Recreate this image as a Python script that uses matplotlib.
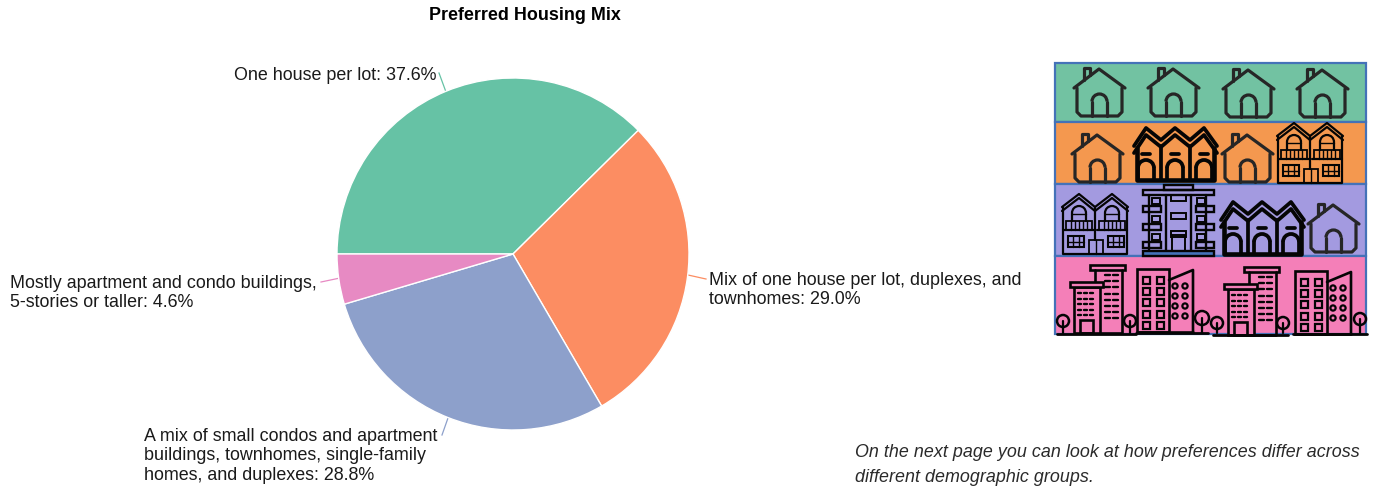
import matplotlib
matplotlib.use("Agg")
import matplotlib.pyplot as plt
from matplotlib.patches import Rectangle, Circle, Arc

# Survey results
categories = [
    "One house per lot",
    "Mix of one house per lot, duplexes, and\ntownhomes",
    "A mix of small condos and apartment\nbuildings, townhomes, single-family\nhomes, and duplexes",
    "Mostly apartment and condo buildings,\n5-stories or taller",
]
shares = [37.6, 29.0, 28.8, 4.6]
slice_colors = ["#66c2a5", "#fc8d62", "#8da0cb", "#e78ac3"]
title = "Preferred Housing Mix"
note = ("On the next page you can look at how preferences differ across\n"
        "different demographic groups.")

W, H = 1374, 487
plt.rcParams["font.family"] = ["Liberation Sans", "DejaVu Sans"]
fig = plt.figure(figsize=(W / 100, H / 100), dpi=100)

# Overlay in pixel units for text and the icon panel
ov = fig.add_axes([0, 0, 1, 1])
ov.set_xlim(0, W)
ov.set_ylim(H, 0)
ov.axis("off")

# Pie
cx, cy, R = 513, 254, 176
pie_ax = fig.add_axes([(cx - R) / W, 1 - (cy + R) / H, 2 * R / W, 2 * R / H])
pie_ax.pie(shares, colors=slice_colors, startangle=180, counterclock=False,
           radius=1, wedgeprops=dict(edgecolor="white", linewidth=1))
pie_ax.set_xlim(-1, 1)
pie_ax.set_ylim(-1, 1)

# Slice labels and leader lines
TXT = "#1a1a1a"
FS = 12.9
label_spec = [
    (437, 76, "right", (439, 73), (446, 92)),
    (709, 290, "left", (688, 275), (706, 279)),
    (144, 456, "left", (448, 418), (442, 435)),
    (10, 293, "left", (340, 278), (321, 282)),
]
for name, v, c, (tx, ty, ha, p0, p1) in zip(categories, shares, slice_colors, label_spec):
    ov.text(tx, ty, f"{name}: {v:.1f}%", ha=ha, va="center", fontsize=FS,
            color=TXT, linespacing=1.17)
    ov.plot([p0[0], p1[0]], [p0[1], p1[1]], color=c, lw=0.9)

ov.text(525, 15.5, title, ha="center", va="center", fontsize=12.9,
        fontweight="bold", color="black")
ov.text(855, 465, note, ha="left", va="center", fontsize=12.9, style="italic",
        color="#2a2a2a", linespacing=1.6)

# Icon panel
INK = "#262626"
BLK = "#050505"
PINK = "#f47fb8"
bands = [(63, 122, "#72c2a2"), (122, 184, "#f4984f"),
         (184, 256, "#a39ae0"), (256, 334, PINK)]
for top, bot, col in bands:
    ov.add_patch(Rectangle((1055, top), 311, bot - top, fc=col, ec="#4472b8",
                           lw=1.6, zorder=1))


def line(xs, ys, color=BLK, lw=1.5):
    ov.plot(xs, ys, color=color, lw=lw, solid_capstyle="round",
            solid_joinstyle="round", zorder=3)


def box(x, y, w, h, lw=1.2, color=BLK, fc="none"):
    ov.add_patch(Rectangle((x, y), w, h, fc=fc, ec=color, lw=lw, zorder=3))


def arch(x0, x1, base, top, color=BLK, lw=1.5):
    # door or window with a rounded head
    r = (x1 - x0) / 2
    line([x0, x0], [base, top + r], color, lw)
    line([x1, x1], [base, top + r], color, lw)
    ov.add_patch(Arc(((x0 + x1) / 2, top + r), 2 * r, 2 * r, theta1=180, theta2=360,
                     color=color, lw=lw, zorder=3))


def house(x, y):
    # x, y is the top-left corner of a 52x49 icon
    lw = 2.3
    line([x, x + 25, x + 51], [y + 20, y + 1, y + 20], INK, lw)
    line([x + 10, x + 10, x + 16, x + 16], [y + 12, y, y, y + 7], INK, lw)
    line([x + 3, x + 3, x + 7, x + 44, x + 48, x + 48],
         [y + 20, y + 44, y + 48, y + 48, y + 44, y + 20], INK, lw)
    arch(x + 18, x + 33, y + 48, y + 26, INK, lw)


def townhouses(x, y):
    # x, y is the top-left corner of an 85x55 icon
    lw = 2.7
    peaks = [x + 13, x + 42, x + 71]
    valleys = [x + 28, x + 57]
    for off in (0, 7):
        xs = [x + 1, peaks[0], valleys[0], peaks[1], valleys[1], peaks[2], x + 84]
        ys = [y + 20 + off, y + 2 + off, y + 14 + off, y + 2 + off,
              y + 14 + off, y + 2 + off, y + 20 + off]
        line(xs, ys, BLK, lw)
    line([x + 4, x + 4, x + 81, x + 81], [y + 22, y + 54, y + 54, y + 22], BLK, lw + 0.6)
    for xv in valleys:
        line([xv, xv], [y + 20, y + 54], BLK, lw)
    for p in peaks:
        line([p - 4, p + 4], [y + 28, y + 28], BLK, lw)
        arch(p - 8, p + 8, y + 54, y + 34, BLK, lw)


def duplex(x, y):
    # x, y is the top-left corner of a 67x61 icon
    lw = 1.6
    for off in (0, 4):
        line([x, x + 17, x + 33, x + 50, x + 66],
             [y + 13 + off, y + off, y + 13 + off, y + off, y + 13 + off], BLK, lw)
    line([x + 1, x + 1, x + 65, x + 65], [y + 13, y + 60, y + 60, y + 13], BLK, lw)
    line([x + 33, x + 33], [y + 13, y + 46], BLK, lw)
    for c in (x + 17, x + 50):
        arch(c - 7, c + 7, y + 27, y + 12, BLK, lw)
        line([c - 7, c + 7], [y + 20, y + 20], BLK, 1)
        box(c - 13, y + 27, 26, 9, lw=1.3)
        for d in range(-8, 9, 4):
            line([c + d, c + d], [y + 27, y + 36], BLK, 1)
        line([c - 15, c + 15], [y + 36, y + 36], BLK, 1.6)
    for wx in (x + 6, x + 46):
        box(wx, y + 42, 16, 11, lw=1.5)
        line([wx, wx + 16], [y + 47.5, y + 47.5], BLK, 1)
        for d in (5, 11):
            line([wx + d, wx + d], [y + 42, y + 53], BLK, 1)
    box(x + 27, y + 46, 14, 14, lw=1.3)
    line([x + 34, x + 34], [y + 46, y + 60], BLK, 1)


def apartments(x, y):
    # x, y is the top-left corner of a 73x71 icon
    lw = 1.7
    box(x + 22, y, 29, 5, lw=lw)
    box(x + 1, y + 5, 71, 5, lw=lw)
    line([x + 24, x + 24], [y + 10, y + 66], BLK, lw)
    line([x + 49, x + 49], [y + 10, y + 66], BLK, lw)
    for dx in (7, 64):
        line([dx + x, dx + x], [y + 10, y + 66], BLK, lw)
    for row in (0, 1, 2):
        yy = y + 21 + row * 18
        box(x + 1, yy, 18, 6, lw=lw)
        box(x + 54, yy, 18, 6, lw=lw)
        box(x + 10, yy - 8, 8, 6, lw=1.4)
        box(x + 55, yy - 8, 8, 6, lw=1.4)
        box(x + 29, yy - 11, 15, 6, lw=1.4)
    box(x + 30, y + 50, 13, 16, lw=1.4)
    box(x + 1, y + 66, 71, 5, lw=lw, fc="#4472b8")


def tree(x, y, r=6):
    # x, y is the centre of the crown
    ov.add_patch(Circle((x, y), r, fc="none", ec=BLK, lw=1.8, zorder=3))
    line([x, x], [y, 333], BLK, 1.6)


def towers(x, y):
    # x is the left edge of the rear-tower group, y its top
    lw = 1.9
    box(x + 19, y, 35, 5, lw=lw)
    line([x + 24, x + 24, x + 51, x + 51], [y + 5, y + 68, y + 68, y + 5], BLK, lw)
    ov.add_patch(Rectangle((x + 3, y + 22), 26, 46, fc=PINK, ec=BLK, lw=lw, zorder=3))
    box(x - 1, y + 17, 33, 5, lw=lw, fc=PINK)
    for r in range(5):
        for c in range(3):
            line([x + 7 + c * 6, x + 10 + c * 6], [y + 28 + r * 5.5, y + 28 + r * 5.5], BLK, 1.7)
    for r in range(8):
        for c in range(2):
            line([x + 34 + c * 8, x + 39 + c * 8], [y + 10 + r * 6.2, y + 10 + r * 6.2], BLK, 1.7)
    box(x + 9, y + 55, 13, 13, lw=lw)


def offices(x, y):
    # x is the left edge of the paired blocks, y their top
    lw = 1.9
    ov.add_patch(Rectangle((x, y), 32, 63, fc="none", ec=BLK, lw=lw, zorder=3))
    line([x + 32, x + 56, x + 56], [y + 11, y + 1, y + 63], BLK, lw)
    line([x, x + 56], [y + 63, y + 63], BLK, lw)
    for r in range(5):
        for c in range(2):
            box(x + 6 + c * 14, y + 8 + r * 11.2, 7, 7, lw=1.6)
    for r in range(4):
        for c in range(2):
            ov.add_patch(Circle((x + 38 + c * 10, y + 17 + r * 10), 2.6, fc="none",
                                ec=BLK, lw=1.6, zorder=3))


# Row 1
for hx, hy in [(1074, 68), (1148, 68), (1223, 69), (1297, 69)]:
    house(hx, hy)
# Row 2
house(1072, 134)
townhouses(1133, 126)
house(1222, 134)
duplex(1277, 123)
# Row 3
duplex(1062, 194)
apartments(1142, 185)
townhouses(1220, 200)
house(1308, 204)
# Row 4
towers(1071, 265)
offices(1137, 269)
towers(1225, 267)
offices(1295, 271)
for tx, ty, r in [(1063, 321, 6), (1130, 321, 6), (1202, 318, 7),
                  (1217, 323, 6), (1283, 323, 6), (1360, 319, 6)]:
    tree(tx, ty, r)
line([1057, 1136], [334, 334], BLK, 2)
line([1136, 1208], [333, 333], BLK, 2)
line([1213, 1288], [335, 335], BLK, 2)
line([1293, 1367], [334, 334], BLK, 2)

fig.savefig("out.png", dpi=100)
